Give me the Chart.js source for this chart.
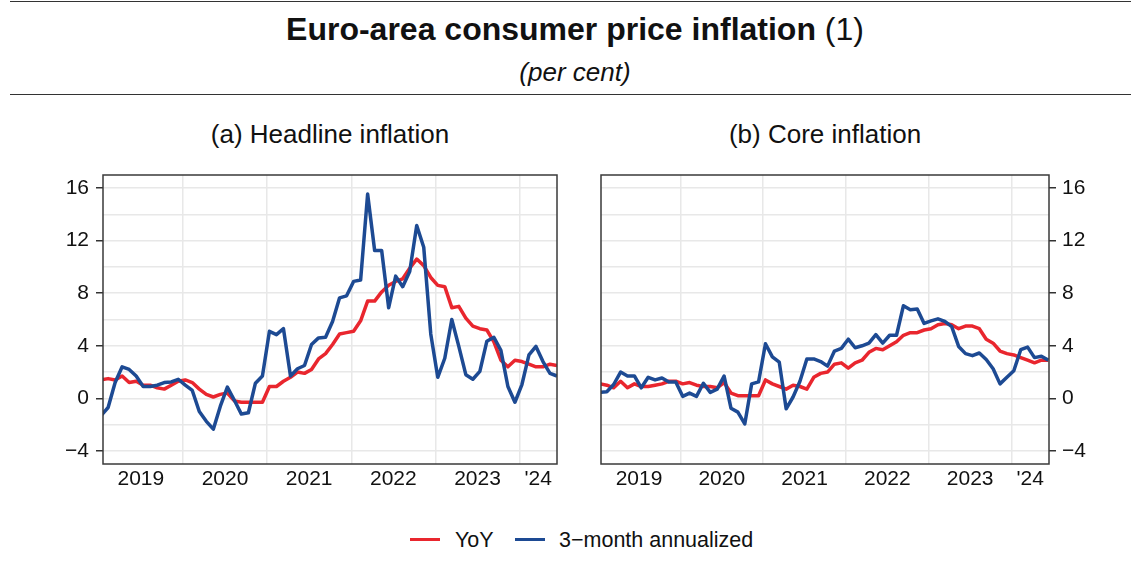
<!DOCTYPE html>
<html lang="en">
<head>
  <meta charset="UTF-8" />
  <title>Euro-area consumer price inflation</title>
  <script src="https://cdn.jsdelivr.net/npm/chart.js"></script>
  <style>
    body {
      margin: 0;
      width: 1131px;
      height: 564px;
      background: #fff;
      font-family: "Liberation Sans", Arial, sans-serif;
      color: #111;
      position: relative;
      overflow: hidden;
    }
    .rule {
      position: absolute;
      left: 10px;
      right: 0;
      height: 0;
      border-top: 1px solid #333;
    }
    .title {
      position: absolute;
      left: 0;
      width: 1150px;
      text-align: center;
      top: 11px;
      font-size: 32px;
      line-height: 36px;
    }
    .title b { font-weight: bold; }
    .subtitle {
      position: absolute;
      left: 0;
      width: 1150px;
      text-align: center;
      top: 57px;
      font-size: 26px;
      line-height: 30px;
      font-style: italic;
    }
    .panel-title {
      position: absolute;
      top: 119px;
      font-size: 26px;
      line-height: 30px;
      text-align: center;
      width: 460px;
    }
    canvas { position: absolute; }
    .legend-key {
      position: absolute;
      width: 30px;
      height: 3px;
      top: 538px;
    }
    .legend-text {
      position: absolute;
      top: 527px;
      font-size: 21.5px;
      line-height: 26px;
    }
  </style>
</head>
<body>

  <div class="rule" style="top:1px"></div>
  <div class="title"><b>Euro-area consumer price inflation</b> (1)</div>
  <div class="subtitle">(per cent)</div>
  <div class="rule" style="top:94px"></div>

  <div class="panel-title" style="left:100px">(a) Headline inflation</div>
  <div class="panel-title" style="left:595px">(b) Core inflation</div>

  <canvas id="headChart" width="570" height="330" style="left:0;top:170px"></canvas>
  <canvas id="coreChart" width="551" height="330" style="left:580px;top:170px"></canvas>

  <div class="legend-key" style="left:410px;background:#e9262e"></div>
  <div class="legend-text" style="left:455px">YoY</div>
  <div class="legend-key" style="left:515px;background:#1d4a93"></div>
  <div class="legend-text" style="left:559px">3−month annualized</div>

  <script>
    // monthly, Jan 2019 .. Jun 2024
    const yearLabels = ['2019', '2020', '2021', '2022', '2023', "'24"];

    const headlineYoY = [
      1.4, 1.5, 1.4, 1.7, 1.2, 1.3, 1.0, 1.0, 0.8, 0.7, 1.0, 1.3,
      1.4, 1.2, 0.7, 0.3, 0.1, 0.3, 0.4, -0.2, -0.3, -0.3, -0.3, -0.3,
      0.9, 0.9, 1.3, 1.6, 2.0, 1.9, 2.2, 3.0, 3.4, 4.1, 4.9, 5.0,
      5.1, 5.9, 7.4, 7.4, 8.1, 8.6, 8.9, 9.1, 9.9, 10.6, 10.1, 9.2,
      8.6, 8.5, 6.9, 7.0, 6.1, 5.5, 5.3, 5.2, 4.3, 2.9, 2.4, 2.9,
      2.8, 2.6, 2.4, 2.4, 2.6, 2.5
    ];
    const headline3m = [
      -1.3, -0.7, 1.2, 2.4, 2.2, 1.7, 0.9, 0.9, 1.0, 1.2, 1.25, 1.45,
      1.0, 0.6, -1.0, -1.75, -2.35, -0.6, 0.85, -0.15, -1.2, -1.1, 1.15, 1.7,
      5.1, 4.85, 5.3, 1.7, 2.25, 2.5, 4.1, 4.6, 4.65, 5.85, 7.65, 7.8,
      8.9, 9.0, 15.55, 11.25, 11.25, 6.9, 9.3, 8.5, 9.65, 13.15, 11.5, 4.9,
      1.6, 3.05, 6.0, 3.95, 1.8, 1.45, 2.05, 4.35, 4.65, 3.65, 0.9, -0.3,
      1.05, 3.3, 3.95, 2.8, 1.9, 1.7
    ];
    const coreYoY = [
      1.1, 1.0, 0.8, 1.3, 0.8, 1.1, 0.9, 0.9, 1.0, 1.1, 1.3, 1.3,
      1.1, 1.2, 1.0, 0.9, 0.9, 0.8, 1.2, 0.4, 0.2, 0.2, 0.2, 0.2,
      1.4, 1.1, 0.9, 0.7, 1.0, 0.9, 0.7, 1.6, 1.9, 2.0, 2.6, 2.7,
      2.3, 2.7, 2.9, 3.5, 3.8, 3.7, 4.0, 4.3, 4.8, 5.0, 5.0, 5.2,
      5.3, 5.6, 5.7, 5.6, 5.3, 5.5, 5.5, 5.3, 4.5, 4.2, 3.6, 3.4,
      3.3, 3.1, 2.9, 2.7, 2.9, 2.9
    ];
    const core3m = [
      0.45, 0.5, 1.05, 2.0, 1.7, 1.7, 0.8, 1.6, 1.4, 1.55, 1.25, 1.25,
      0.15, 0.4, 0.15, 1.15, 0.45, 0.7, 1.7, -0.75, -1.05, -1.95, 1.1, 1.25,
      4.15, 3.15, 2.75, -0.8, 0.1, 1.3, 3.0, 3.0, 2.8, 2.45, 3.6, 3.8,
      4.5, 3.85, 4.0, 4.2, 4.85, 4.2, 4.8, 4.8, 7.05, 6.75, 6.8, 5.7,
      5.9, 6.05, 5.85, 5.45, 3.95, 3.4, 3.25, 3.45, 2.95, 2.25, 1.1, 1.6,
      2.1, 3.7, 3.9, 3.1, 3.2, 2.9
    ];

    const RED = '#e9262e';
    const BLUE = '#1d4a93';
    const FONT = '"Liberation Sans", Arial, sans-serif';

    // year boundaries sit a third of a month before each January point
    const offset = 1 / 3;
    const boundaries = yearLabels.slice(1).map((_, k) => (k + 1) * 12 - offset);

    function toPoints(arr) {
      return arr.map((v, i) => ({ x: i, y: v }));
    }

    const frame = {
      id: 'frame',
      afterDatasetsDraw(chart) {
        const a = chart.chartArea;
        const ctx = chart.ctx;
        ctx.save();
        ctx.strokeStyle = '#3a3a3a';
        ctx.lineWidth = 1.5;
        ctx.strokeRect(a.left, a.top, a.right - a.left, a.bottom - a.top);
        ctx.restore();
      }
    };

    function makeChart(id, yoy, m3, side, xmin, xmax, padding, yWidth) {
      // label in the middle of each year's visible span
      const labelPos = yearLabels.map((lab, k) => {
        const lo = Math.max(k * 12 - offset, -offset);
        const hi = Math.min((k + 1) * 12 - offset, xmax);
        return { value: (lo + hi) / 2, label: lab };
      });
      const xticks = boundaries.concat(labelPos.map(p => p.value)).sort((a, b) => a - b);

      const lineStyle = { borderWidth: 3.5, pointRadius: 0, tension: 0, borderJoinStyle: 'round' };

      return new Chart(document.getElementById(id), {
        type: 'line',
        data: {
          datasets: [
            { label: '3-month annualized', data: toPoints(m3), borderColor: BLUE, ...lineStyle },
            { label: 'YoY', data: toPoints(yoy), borderColor: RED, ...lineStyle }
          ]
        },
        options: {
          responsive: false,
          animation: false,
          layout: { padding: padding },
          plugins: { legend: { display: false }, tooltip: { enabled: false } },
          scales: {
            x: {
              type: 'linear',
              min: xmin,
              max: xmax,
              afterBuildTicks: axis => { axis.ticks = xticks.map(v => ({ value: v })); },
              afterFit: s => { s.height = 36; s.paddingLeft = 0; s.paddingRight = 0; },
              border: { display: false },
              grid: {
                drawTicks: false,
                lineWidth: 1.5,
                color: c => boundaries.some(b => Math.abs(b - c.tick.value) < 1e-6) ? '#e8e8e8' : 'rgba(0,0,0,0)'
              },
              ticks: {
                autoSkip: false,
                maxRotation: 0,
                padding: 3,
                color: '#111',
                font: { family: FONT, size: 21 },
                callback: v => {
                  const p = labelPos.find(q => Math.abs(q.value - v) < 1e-6);
                  return p ? p.label : '';
                }
              }
            },
            y: {
              position: side,
              min: -5,
              max: 17,
              afterBuildTicks: axis => {
                const t = [];
                for (let v = -4; v <= 16; v += 2) t.push({ value: v });
                axis.ticks = t;
              },
              afterFit: s => { s.width = yWidth; s.paddingTop = 0; s.paddingBottom = 0; },
              border: { display: false },
              grid: {
                lineWidth: 1.5,
                color: '#e8e8e8',
                tickLength: 7,
                tickWidth: 1.5,
                tickColor: c => c.tick.value % 4 === 0 ? '#333' : 'rgba(0,0,0,0)'
              },
              ticks: {
                padding: side === 'left' ? 7 : 6,
                color: '#111',
                font: { family: FONT, size: 21 },
                callback: v => v % 4 === 0 ? String(v).replace('-', '\u2212') : ''
              }
            }
          }
        },
        plugins: [frame]
      });
    }

    makeChart('headChart', headlineYoY, headline3m, 'left', 0.27, 65, { left: 0, right: 13, top: 5, bottom: 0 }, 103);
    makeChart('coreChart', coreYoY, core3m, 'right', 0.16, 65.1, { left: 21, right: 0, top: 5, bottom: 0 }, 82);
  </script>
</body>
</html>
